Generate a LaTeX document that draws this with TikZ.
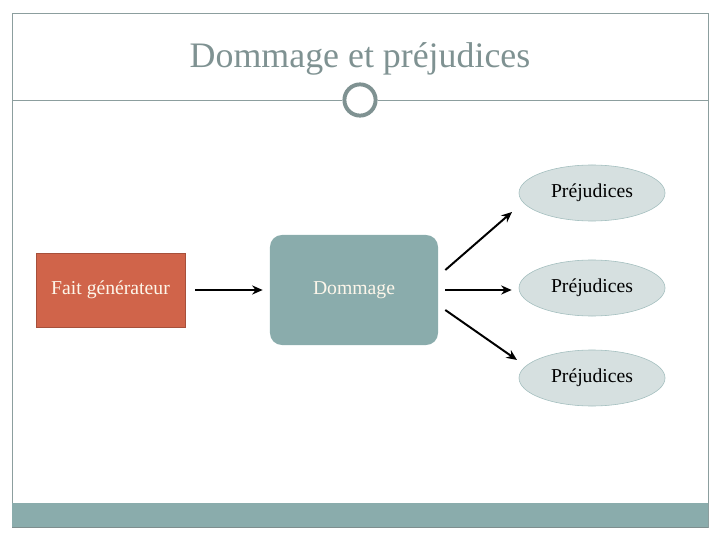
\documentclass[tikz,border=0pt]{standalone}
\usepackage{fontspec}
\setmainfont{Liberation Serif}
\usetikzlibrary{arrows.meta,shapes.geometric}
\definecolor{framegray}{HTML}{8C9E9E}
\definecolor{titlegray}{HTML}{7F9292}
\definecolor{teal}{HTML}{8AACAC}
\definecolor{brick}{HTML}{D0644A}
\definecolor{pale}{HTML}{D6E0E0}
\definecolor{cream}{HTML}{FDF6EA}

\begin{document}
\begin{tikzpicture}[x=0.025cm,y=0.025cm,
    arr/.style={line width=1.4pt,-{Stealth[length=7.5pt,width=6.5pt]}},
    prej/.style={ellipse,draw=teal!80!white,fill=pale,minimum width=3.65cm,minimum height=1.4cm,inner sep=0pt,font=\fontsize{14}{16}\selectfont}]
      \useasboundingbox (0,0) rectangle (720,540);
      % frame and band
      \draw [framegray,line width=0.7pt] (12,13) rectangle (708,527);
      \fill [teal] (12,13) rectangle (708,37);
      \draw [framegray!90!black,line width=0.5pt] (12,13) -- (708,13);
      % title
      \node (T) at (360,481) {\fontsize{25.5}{30}\selectfont\color{titlegray}Dommage et préjudices};
      \node (C) at (360,440) [circle,draw=titlegray,line width=2.8pt,minimum size=0.78cm,inner sep=0pt] {};
      \draw [framegray,line width=0.7pt] (12,440) -- (C.west);
      \draw [framegray,line width=0.7pt] (C.east) -- (708,440);
      % boxes
      \node (F) at (110.5,250) [draw=brick!80!black,fill=brick,minimum width=3.725cm,minimum height=1.85cm,inner sep=0pt,text=cream,font=\fontsize{14}{16}\selectfont] {Fait générateur};
      \node (D) at (354,250) [fill=teal,rounded corners=0.3cm,minimum width=4.2cm,minimum height=2.75cm,inner sep=0pt,text=cream,font=\fontsize{14}{16}\selectfont] {Dommage};
      \node (P1) at (592,347) [prej] {Préjudices};
      \node (P2) at (592,252) [prej] {Préjudices};
      \node (P3) at (592,162) [prej] {Préjudices};
      % arrows
      \draw [arr,shorten <=7pt,shorten >=5pt] (F.east) -- (D.west);
      \draw [arr] ([shift={(7,20)}]D.east) -- ([shift={(-80,-19)}]P1.center);
      \draw [arr,shorten <=5pt,shorten >=5pt] (D.east) -- (D.east -| P2.west);
      \draw [arr] ([shift={(7,-20)}]D.east) -- ([shift={(-75,18)}]P3.center);
    \end{tikzpicture}
\end{document}
